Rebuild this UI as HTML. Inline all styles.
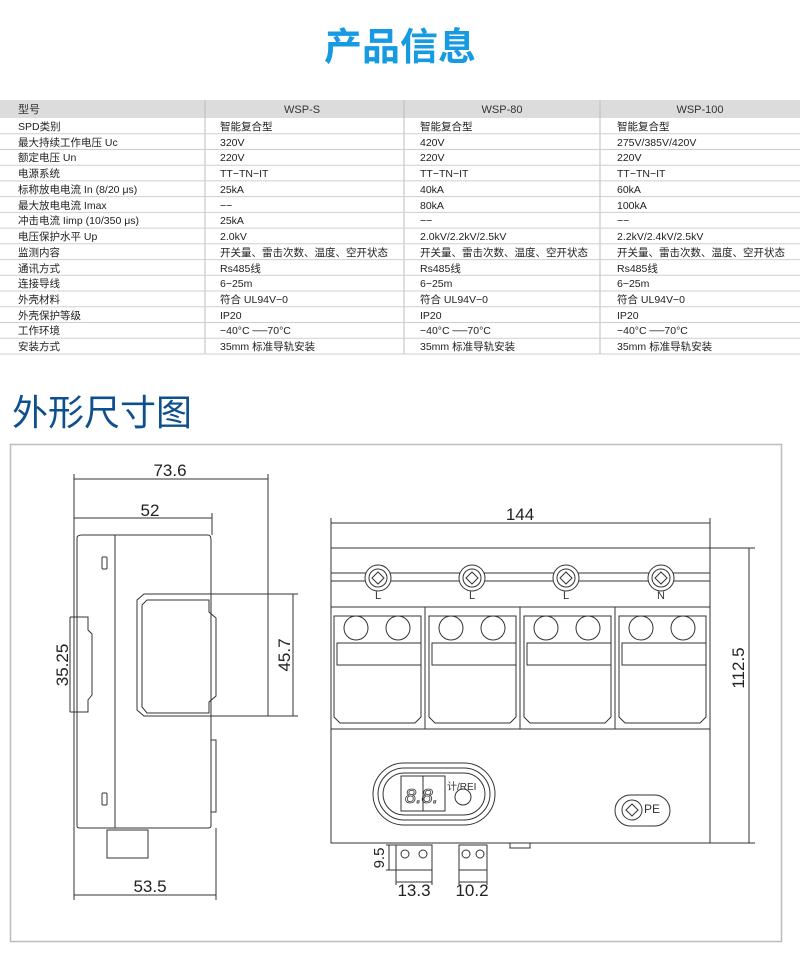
<!DOCTYPE html>
<html><head><meta charset="utf-8"><style>
html,body{margin:0;padding:0;background:#fff;}
svg{display:block;}
text{font-family:"Liberation Sans","Noto Sans CJK SC",sans-serif;}
</style></head><body>
<svg width="800" height="977" viewBox="0 0 800 977" xmlns="http://www.w3.org/2000/svg">
<text x="400" y="60" text-anchor="middle" font-size="38" font-weight="bold" fill="#169be2" style="font-family:'Noto Sans CJK SC',sans-serif">产品信息</text>
<rect x="0" y="100" width="800" height="18" fill="#dcdcdc"/>
<g stroke="#bdbdbd" stroke-width="1">
<line x1="205" y1="100" x2="205" y2="354"/><line x1="404" y1="100" x2="404" y2="354"/><line x1="600" y1="100" x2="600" y2="354"/>
</g>
<g font-size="11" fill="#333">
<text x="18" y="113">型号</text>
<text x="302" y="113" text-anchor="middle">WSP-S</text>
<text x="502" y="113" text-anchor="middle">WSP-80</text>
<text x="700" y="113" text-anchor="middle">WSP-100</text>
</g>
<g stroke="#cfcfcf" stroke-width="1">
<line x1="0" y1="133.7" x2="800" y2="133.7"/><line x1="0" y1="149.5" x2="800" y2="149.5"/><line x1="0" y1="165.2" x2="800" y2="165.2"/><line x1="0" y1="180.9" x2="800" y2="180.9"/><line x1="0" y1="196.6" x2="800" y2="196.6"/><line x1="0" y1="212.4" x2="800" y2="212.4"/><line x1="0" y1="228.1" x2="800" y2="228.1"/><line x1="0" y1="243.8" x2="800" y2="243.8"/><line x1="0" y1="259.6" x2="800" y2="259.6"/><line x1="0" y1="275.3" x2="800" y2="275.3"/><line x1="0" y1="291" x2="800" y2="291"/><line x1="0" y1="306.7" x2="800" y2="306.7"/><line x1="0" y1="322.5" x2="800" y2="322.5"/><line x1="0" y1="338.2" x2="800" y2="338.2"/><line x1="0" y1="354" x2="800" y2="354"/>
</g>
<g font-size="10.5" fill="#222">
<text x="18" y="130">SPD类别</text><text x="220" y="130">智能复合型</text><text x="420" y="130">智能复合型</text><text x="617" y="130">智能复合型</text>
<text x="18" y="146">最大持续工作电压 Uc</text><text x="220" y="146">320V</text><text x="420" y="146">420V</text><text x="617" y="146">275V/385V/420V</text>
<text x="18" y="161">额定电压 Un</text><text x="220" y="161">220V</text><text x="420" y="161">220V</text><text x="617" y="161">220V</text>
<text x="18" y="177">电源系统</text><text x="220" y="177">TT−TN−IT</text><text x="420" y="177">TT−TN−IT</text><text x="617" y="177">TT−TN−IT</text>
<text x="18" y="193">标称放电电流 In (8/20 μs)</text><text x="220" y="193">25kA</text><text x="420" y="193">40kA</text><text x="617" y="193">60kA</text>
<text x="18" y="209">最大放电电流 Imax</text><text x="220" y="209">−−</text><text x="420" y="209">80kA</text><text x="617" y="209">100kA</text>
<text x="18" y="224">冲击电流 Iimp (10/350 μs)</text><text x="220" y="224">25kA</text><text x="420" y="224">−−</text><text x="617" y="224">−−</text>
<text x="18" y="240">电压保护水平 Up</text><text x="220" y="240">2.0kV</text><text x="420" y="240">2.0kV/2.2kV/2.5kV</text><text x="617" y="240">2.2kV/2.4kV/2.5kV</text>
<text x="18" y="256">监测内容</text><text x="220" y="256">开关量、雷击次数、温度、空开状态</text><text x="420" y="256">开关量、雷击次数、温度、空开状态</text><text x="617" y="256">开关量、雷击次数、温度、空开状态</text>
<text x="18" y="272">通讯方式</text><text x="220" y="272">Rs485线</text><text x="420" y="272">Rs485线</text><text x="617" y="272">Rs485线</text>
<text x="18" y="287">连接导线</text><text x="220" y="287">6−25m</text><text x="420" y="287">6−25m</text><text x="617" y="287">6−25m</text>
<text x="18" y="303">外壳材料</text><text x="220" y="303">符合 UL94V−0</text><text x="420" y="303">符合 UL94V−0</text><text x="617" y="303">符合 UL94V−0</text>
<text x="18" y="319">外壳保护等级</text><text x="220" y="319">IP20</text><text x="420" y="319">IP20</text><text x="617" y="319">IP20</text>
<text x="18" y="334">工作环境</text><text x="220" y="334">−40°C ──70°C</text><text x="420" y="334">−40°C ──70°C</text><text x="617" y="334">−40°C ──70°C</text>
<text x="18" y="350">安装方式</text><text x="220" y="350">35mm 标准导轨安装</text><text x="420" y="350">35mm 标准导轨安装</text><text x="617" y="350">35mm 标准导轨安装</text>
</g>
<text x="12" y="425" font-size="36" fill="#0d4f8f" style="font-family:'Noto Sans CJK SC',sans-serif">外形尺寸图</text>
<rect x="10.5" y="444.5" width="771" height="497" fill="none" stroke="#bdbdbd" stroke-width="1.5"/>
<g fill="none" stroke="#333" stroke-width="1">
<line x1="74" y1="474" x2="74" y2="900"/><line x1="268" y1="474" x2="268" y2="596"/><line x1="212" y1="513" x2="212" y2="535"/><line x1="216" y1="828" x2="216" y2="900"/>
<line x1="74" y1="479" x2="268" y2="479"/><line x1="74" y1="518" x2="212" y2="518"/><line x1="74" y1="895" x2="216" y2="895"/>
<path d="M77 826 V538 Q77 535 82 535 H208 Q211 535 211 540 V826 Q211 828 208 828 H80 Q77 828 77 826Z"/>
<line x1="115" y1="535" x2="115" y2="828"/>
<rect x="102" y="557" width="5" height="12" rx="1"/><rect x="102" y="793" width="5" height="12" rx="1"/>
<path d="M70 617 H88 V630 L92 634 V695 L88 700 V712 H70"/>
<line x1="70" y1="617" x2="70" y2="712"/>
<path d="M137 600 L144 594 H268 V716 H144 L137 710Z"/>
<path d="M142 605 L147 600 H209 V612 L216 618 V696 L209 702 V713 H147 L142 707Z"/>
<line x1="211" y1="594" x2="211" y2="716"/>
<line x1="268" y1="594" x2="298" y2="594"/><line x1="268" y1="716" x2="298" y2="716"/><line x1="293" y1="594" x2="293" y2="716"/>
<path d="M211 740 H216 V812 H211"/>
<rect x="107" y="830" width="41" height="28"/>
<line x1="331" y1="518" x2="331" y2="548"/><line x1="710" y1="518" x2="710" y2="548"/><line x1="331" y1="523" x2="710" y2="523"/>
<line x1="710" y1="548" x2="755" y2="548"/><line x1="710" y1="843" x2="755" y2="843"/><line x1="749" y1="548" x2="749" y2="843"/>
<rect x="331" y="548" width="379" height="295"/>
<line x1="331" y1="573" x2="710" y2="573"/><line x1="331" y1="581" x2="710" y2="581"/>
<line x1="331" y1="607" x2="710" y2="607"/><line x1="331" y1="729" x2="710" y2="729"/>
<line x1="425" y1="607" x2="425" y2="729"/><line x1="520" y1="607" x2="520" y2="729"/><line x1="615" y1="607" x2="615" y2="729"/>
</g>
<g fill="none" stroke="#333" stroke-width="1">
<g transform="translate(331,0)">
<path d="M3 616 H90 V717 L84 723 H9 L3 717Z"/><circle cx="25" cy="628" r="12"/><circle cx="67" cy="628" r="12"/><rect x="6" y="643" width="84" height="22"/>
</g>
<g transform="translate(426,0)">
<path d="M3 616 H90 V717 L84 723 H9 L3 717Z"/><circle cx="25" cy="628" r="12"/><circle cx="67" cy="628" r="12"/><rect x="6" y="643" width="84" height="22"/>
</g>
<g transform="translate(521,0)">
<path d="M3 616 H90 V717 L84 723 H9 L3 717Z"/><circle cx="25" cy="628" r="12"/><circle cx="67" cy="628" r="12"/><rect x="6" y="643" width="84" height="22"/>
</g>
<g transform="translate(616,0)">
<path d="M3 616 H90 V717 L84 723 H9 L3 717Z"/><circle cx="25" cy="628" r="12"/><circle cx="67" cy="628" r="12"/><rect x="6" y="643" width="84" height="22"/>
</g>
<circle cx="378" cy="578" r="13" fill="#fff"/><circle cx="378" cy="578" r="9"/><path d="M372 578 L378 572 L384 578 L378 584Z"/>
<circle cx="472" cy="578" r="13" fill="#fff"/><circle cx="472" cy="578" r="9"/><path d="M466 578 L472 572 L478 578 L472 584Z"/>
<circle cx="566" cy="578" r="13" fill="#fff"/><circle cx="566" cy="578" r="9"/><path d="M560 578 L566 572 L572 578 L566 584Z"/>
<circle cx="661" cy="578" r="13" fill="#fff"/><circle cx="661" cy="578" r="9"/><path d="M655 578 L661 572 L667 578 L661 584Z"/>
<rect x="373" y="763" width="122" height="62" rx="31"/><rect x="378" y="768" width="112" height="52" rx="26"/><rect x="383" y="773" width="102" height="42" rx="21"/>
<rect x="401" y="776" width="22" height="35"/><rect x="423" y="776" width="22" height="35"/>
<circle cx="463" cy="797" r="8"/>
<rect x="615" y="795" width="55" height="31" rx="15.5"/><circle cx="632" cy="810" r="10"/><path d="M626 810 L632 804 L638 810 L632 816Z"/>
<rect x="396" y="845" width="36" height="25"/><circle cx="405" cy="854" r="4"/><circle cx="423" cy="854" r="4"/>
<rect x="459" y="845" width="28" height="25"/><circle cx="466" cy="854" r="4"/><circle cx="480" cy="854" r="4"/>
<line x1="396" y1="870" x2="396" y2="885"/><line x1="432" y1="870" x2="432" y2="885"/><line x1="396" y1="882" x2="432" y2="882"/>
<line x1="459" y1="870" x2="459" y2="885"/><line x1="487" y1="870" x2="487" y2="885"/><line x1="459" y1="882" x2="487" y2="882"/>
<line x1="386" y1="845" x2="396" y2="845"/><line x1="386" y1="870" x2="396" y2="870"/><line x1="389" y1="845" x2="389" y2="870"/>
<rect x="510" y="843" width="20" height="5"/>
</g>
<g font-size="17" fill="#222">
<text x="170" y="476" text-anchor="middle">73.6</text>
<text x="150" y="516" text-anchor="middle">52</text>
<text x="150" y="892" text-anchor="middle">53.5</text>
<text x="520" y="520" text-anchor="middle">144</text>
<text x="414" y="896" text-anchor="middle">13.3</text>
<text x="472" y="896" text-anchor="middle">10.2</text>
<text transform="translate(68,665) rotate(-90)" text-anchor="middle">35.25</text>
<text transform="translate(290,655) rotate(-90)" text-anchor="middle">45.7</text>
<text transform="translate(744,668) rotate(-90)" text-anchor="middle">112.5</text>
<text transform="translate(384,858) rotate(-90)" text-anchor="middle" font-size="15">9.5</text>
</g>
<g font-size="11" fill="#333">
<text x="378" y="599" text-anchor="middle">L</text><text x="472" y="599" text-anchor="middle">L</text><text x="566" y="599" text-anchor="middle">L</text><text x="661" y="599" text-anchor="middle">N</text>
<text x="644" y="813" font-size="12">PE</text>
<text x="447" y="790" font-size="10">计/REI</text>
<text x="405" y="803" font-size="20" fill="none" stroke="#333" stroke-width="0.8" font-style="italic">8.8.</text>
</g>
</svg>
</body></html>
